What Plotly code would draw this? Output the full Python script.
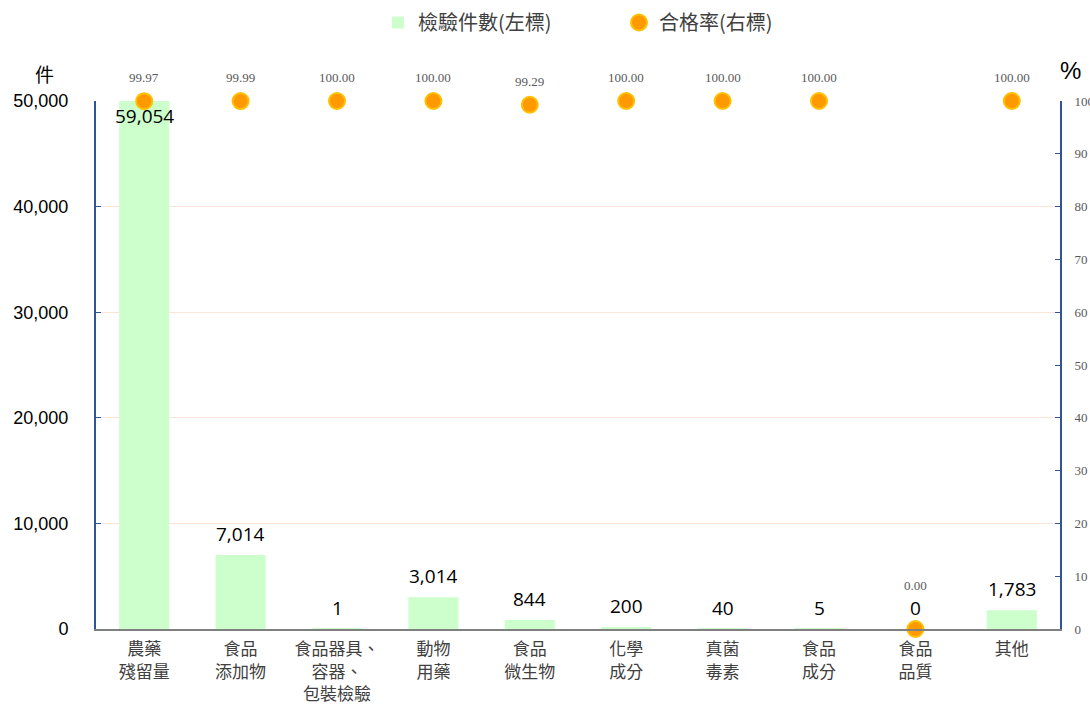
import plotly.graph_objects as go

categories = ["農藥<br>殘留量", "食品<br>添加物", "食品器具、<br>容器、<br>包裝檢驗", "動物<br>用藥",
              "食品<br>微生物", "化學<br>成分", "真菌<br>毒素", "食品<br>成分", "食品<br>品質", "其他"]
counts = [59054, 7014, 1, 3014, 844, 200, 40, 5, 0, 1783]
rates = [99.97, 99.99, 100.00, 100.00, 99.29, 100.00, 100.00, 100.00, 0.00, 100.00]
left_ticks = [0, 10000, 20000, 30000, 40000, 50000]
right_ticks = [0, 10, 20, 30, 40, 50, 60, 70, 80, 90, 100]

YMAX = 50000
CJK = "Noto Sans CJK TC"
W, H = 1090, 707

fig = go.Figure()
fig.add_trace(go.Bar(
    x=categories, y=counts, name="檢驗件數(左標)",
    marker=dict(color="#CCFFCC", line=dict(width=0)),
    width=0.52, yaxis="y",
))
fig.add_trace(go.Scatter(
    x=categories, y=rates, name="合格率(右標)", yaxis="y2",
    mode="markers",
    marker=dict(color="#FF9900", size=16, line=dict(color="#FFC000", width=2)),
    cliponaxis=False,
))

# bar value labels
for c, v in zip(categories, counts):
    shown = min(v, YMAX)
    fig.add_annotation(
        x=c, y=shown, xref="x", yref="y",
        text=f"{v:,}", showarrow=False,
        yanchor="top" if v > YMAX else "bottom",
        yshift=0 if v > YMAX else 6,
        font=dict(family="Open Sans", size=19, color="#000000"),
    )

# rate labels
for c, r in zip(categories, rates):
    fig.add_annotation(
        x=c, y=r, xref="x", yref="y2",
        text=f"{r:.2f}", showarrow=False, yanchor="bottom",
        yshift=14 if r > 50 else 34,
        font=dict(family="Liberation Serif", size=13, color="#595959"),
    )

fig.add_annotation(xref="paper", yref="paper", x=-0.053, y=1.0, yshift=28,
                   xanchor="center", yanchor="middle", text="件",
                   showarrow=False, font=dict(family=CJK, size=19, color="#000000"))
fig.add_annotation(xref="paper", yref="paper", x=1.0104, y=1.0, yshift=31,
                   xanchor="center", yanchor="middle", text="%",
                   showarrow=False, font=dict(family="Liberation Sans", size=24, color="#000000"))

fig.update_layout(
    width=W, height=H,
    margin=dict(l=96, r=30, t=101, b=78, autoexpand=False),
    plot_bgcolor="white", paper_bgcolor="white",
    showlegend=True,
    legend=dict(orientation="h", xref="container", x=378 / W, xanchor="left",
                yref="container", y=1 - 3 / H, yanchor="top", entrywidth=196,
                font=dict(family=CJK, size=20, color="#404040")),
    xaxis=dict(
        range=[-0.5, len(categories) - 0.5],
        showline=True, linecolor="#808080", linewidth=2,
        tickfont=dict(family=CJK, size=17, color="#404040"),
        ticks="", showgrid=False, automargin=False,
        ticklabelstandoff=4,
    ),
    yaxis=dict(
        range=[0, YMAX], tickvals=left_ticks, tickformat=",",
        showline=True, linecolor="#2F5597", linewidth=2,
        ticks="inside", tickcolor="#2F5597", ticklen=5,
        showgrid=True, gridcolor="#FCE4D6", gridwidth=1,
        zeroline=False, automargin=False,
        ticklabelstandoff=22,
        tickfont=dict(family="Liberation Sans", size=18, color="#000000"),
    ),
    yaxis2=dict(
        range=[0, 100], tickvals=right_ticks, overlaying="y", side="right",
        showline=True, linecolor="#2F5597", linewidth=2,
        ticks="inside", tickcolor="#2F5597", ticklen=5,
        showgrid=False, zeroline=False, automargin=False,
        ticklabelstandoff=10,
        tickfont=dict(family="Liberation Serif", size=13, color="#595959"),
    ),
)

fig.write_html("out.html", config={"displayModeBar": False},
               post_script="document.body.style.margin='0';document.body.style.overflow='hidden';")
